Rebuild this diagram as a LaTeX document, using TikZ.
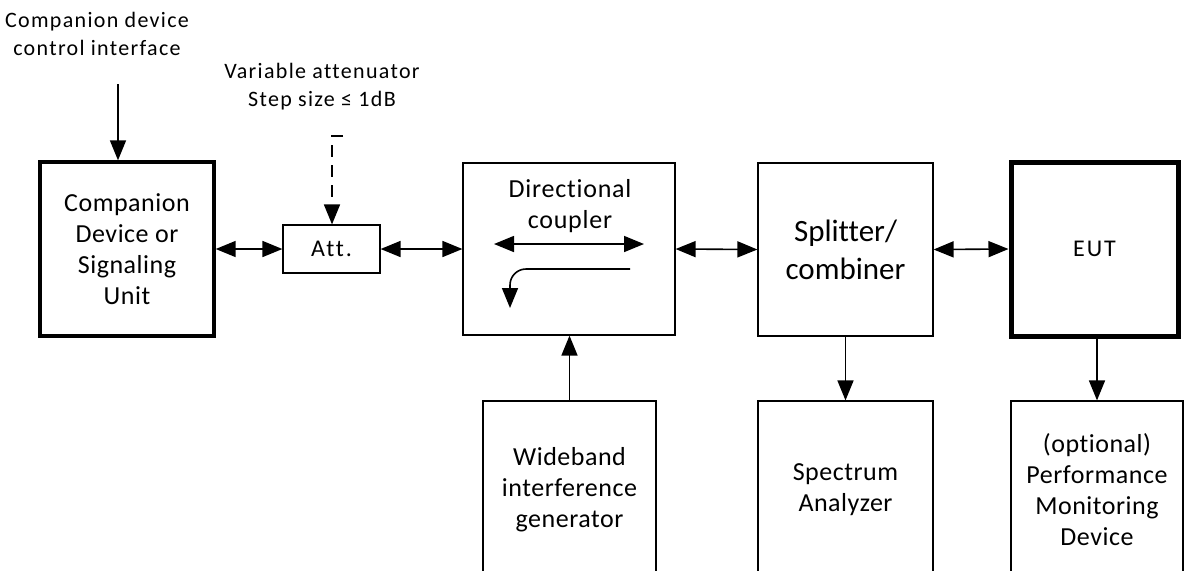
\documentclass[tikz,border=0pt]{standalone}
\usepackage{fontspec}
\setmainfont{Carlito}[Ligatures=NoCommon]
\usetikzlibrary{arrows.meta,calc}
\begin{document}
\begin{tikzpicture}[x=0.5pt,y=-0.5pt,
  box/.style={draw,line width=0.6pt,inner sep=0pt,align=center,font=\fontsize{13}{15.5}\selectfont\addfontfeatures{LetterSpace=2}},
  lbl/.style={inner sep=0pt,align=center,font=\fontsize{11}{14}\selectfont\addfontfeatures{LetterSpace=6}},
  arr/.style={line width=0.8pt,-{Triangle[length=10pt,width=8pt]}},
  darr/.style={line width=0.8pt,{Triangle[length=10pt,width=8pt]}-{Triangle[length=10pt,width=8pt]}},
]
\useasboundingbox (0,0) rectangle (1185,570);
\clip (0,0) rectangle (1185,570);
% top labels
\node[lbl] (ctltxt) at (97,34) {Companion device\\control interface};
\node[lbl] (vartxt) at (322,87) {Variable attenuator\\Step size ≤ 1dB};
% main boxes
\node[box, line width=1.7pt, minimum width=87pt, minimum height=87pt] (comp) at (127,249) {Companion\\Device or\\Signaling\\Unit};
\node[box, minimum width=48.5pt, minimum height=24pt, font=\fontsize{12}{14}\selectfont\addfontfeatures{LetterSpace=8}] (att) at (331.5,249) {Att.};
\node[box, minimum width=106pt, minimum height=86pt] (dc) at (569,249) {};
\node[lbl, font=\fontsize{13}{15.75}\selectfont\addfontfeatures{LetterSpace=3}] (dctxt) at (570,206) {Directional\\coupler};
\node[box, minimum width=87.5pt, minimum height=86.5pt, font=\fontsize{15.5}{19}\selectfont] (sp) at (845.5,249.5) {Splitter/\\combiner};
\node[box, line width=2.5pt, minimum width=83.5pt, minimum height=87pt, font=\fontsize{12}{14}\selectfont\addfontfeatures{LetterSpace=8}] (eut) at (1094.5,249) {EUT};
% bottom boxes
\node[box, minimum width=86.5pt, minimum height=88.5pt] (wb) at (569.5,489.5) {Wideband\\interference\\generator};
\node[box, minimum width=87.5pt, minimum height=88.5pt] (sa) at (845.5,489.5) {Spectrum\\Analyzer};
\node[box, minimum width=86pt, minimum height=88.5pt] (perf) at (1097,489.5) {(optional)\\Performance\\Monitoring\\Device};
% connectors
\coordinate (ctl) at (118,84);
\draw[arr] (ctl) -- (ctl |- comp.north);
\coordinate (vtop) at (343,136);
\coordinate (vcorner) at (332,136);
\draw[arr, dash pattern=on 6pt off 4pt] (vtop) -- (vcorner) -- (vcorner |- att.north);
\draw[darr] (comp.east) -- (att.west);
\draw[darr] (att.east) -- (dc.west);
\draw[darr] (dc.east) -- (sp.west);
\draw[darr] (sp.east) -- (eut.west);
\draw[arr] (wb.north) -- (wb.north |- dc.south);
\draw[arr] (sp.south) -- (sp.south |- sa.north);
\draw[arr] (perf.north |- eut.south) -- (perf.north);
% inner symbols of the directional coupler
\coordinate (dl) at (494,244);
\coordinate (dr) at (644,244);
\draw[darr] (dl) -- (dr);
\coordinate (cs) at (630,269);
\coordinate (cc) at (510,269);
\coordinate (ce) at (510,308);
\draw[arr, rounded corners=8pt] (cs) -- (cc) -- (ce);
\end{tikzpicture}
\end{document}
